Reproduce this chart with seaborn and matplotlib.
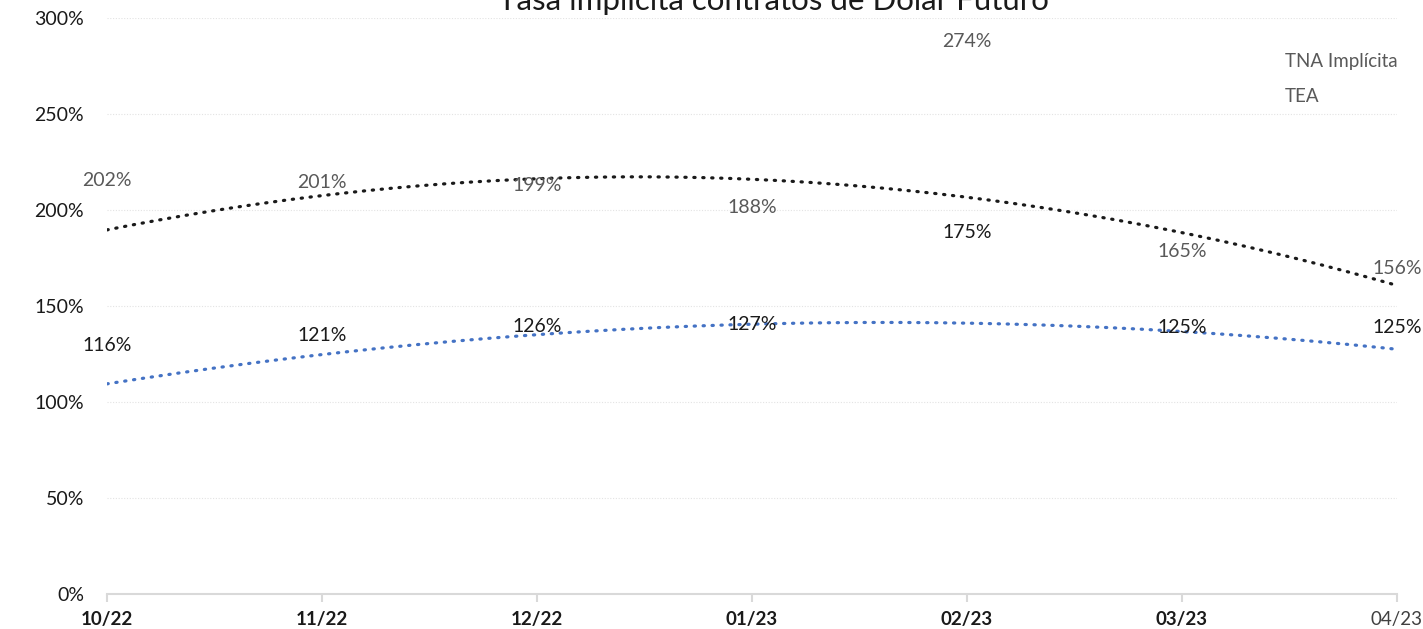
import numpy as np
import pandas as pd
import matplotlib
matplotlib.use("Agg")
import matplotlib.pyplot as plt
import seaborn as sns

# ---- data ----
months = ["10/22", "11/22", "12/22", "01/23", "02/23", "03/23", "04/23"]
tna = [116, 121, 126, 127, 175, 125, 125]   # TNA Implícita (%)
tea = [202, 201, 199, 188, 274, 165, 156]   # TEA (%)
y_ticks = [0, 50, 100, 150, 200, 250, 300]
title = "Tasa implícita contratos de Dólar Futuro"

sns.set_theme(style="white")
plt.rcParams["font.family"] = ["Lato", "DejaVu Sans"]

W, H = 1423, 629
fig = plt.figure(figsize=(W / 100, H / 100), dpi=100)
ax = fig.add_axes([107 / W, 1 - 594 / H, (1397 - 107) / W, (594 - 18) / H])

x = np.arange(len(months))
xf = np.linspace(0, len(months) - 1, 300)

# polynomial (order 2) trendlines, as in the source chart
fit_tea = np.polyval(np.polyfit(x, tea, 2), xf)
fit_tna = np.polyval(np.polyfit(x, tna, 2), xf)
trend = pd.concat([
    pd.DataFrame({"x": xf, "y": fit_tea, "s": "TEA"}),
    pd.DataFrame({"x": xf, "y": fit_tna, "s": "TNA"}),
])
sns.lineplot(data=trend, x="x", y="y", hue="s",
             palette={"TEA": "#1a1a1a", "TNA": "#4472C4"},
             ax=ax, legend=False, linewidth=2.3,
             linestyle=(0, (0.4, 2.4)), dash_capstyle="round")

# data labels (series themselves are not drawn)
for xi, v in zip(x, tea):
    ax.annotate(f"{v}%", (xi, v), xytext=(0, 26), textcoords="offset pixels",
                ha="center", va="center", fontsize=14, color="#595959",
                annotation_clip=False)
for xi, v in zip(x, tna):
    ax.annotate(f"{v}%", (xi, v), xytext=(0, 26), textcoords="offset pixels",
                ha="center", va="center", fontsize=14, color="#1a1a1a",
                annotation_clip=False)

ax.set_xlim(0, len(months) - 1)
ax.set_ylim(0, 300)
ax.set_yticks(y_ticks)
ax.set_yticklabels([f"{t}%" for t in y_ticks], fontsize=14, color="#1a1a1a")
ax.set_xticks(x)
ax.set_xticklabels(months, fontsize=13.5, color="#1a1a1a")
for lbl in ax.get_xticklabels()[:-1]:
    lbl.set_fontweight("bold")
ax.get_xticklabels()[-1].set_color("#404040")

for t in y_ticks[1:]:
    ax.axhline(t, color="#e3e3e3", linewidth=0.8, linestyle=(0, (1, 1.5)), zorder=0)

for s in ["top", "right", "left"]:
    ax.spines[s].set_visible(False)
ax.spines["bottom"].set_color("#d9d9d9")
ax.spines["bottom"].set_linewidth(1.5)
ax.tick_params(axis="x", length=6, width=1.5, color="#d9d9d9", pad=6,
               direction="out", bottom=True)
ax.tick_params(axis="y", length=0, pad=16.5)
ax.set_xlabel("")
ax.set_ylabel("")

# legend (text only, markers invisible)
fig.text(1285 / W, 1 - 61 / H, "TNA Implícita", fontsize=13.5, color="#595959",
         ha="left", va="center")
fig.text(1285 / W, 1 - 97 / H, "TEA", fontsize=13.5, color="#595959",
         ha="left", va="center")

fig.text(773 / W, 1 - 10 / H, title, fontsize=22.5, color="#1a1a1a",
         ha="center", va="baseline")

fig.savefig("out.png", dpi=100)
